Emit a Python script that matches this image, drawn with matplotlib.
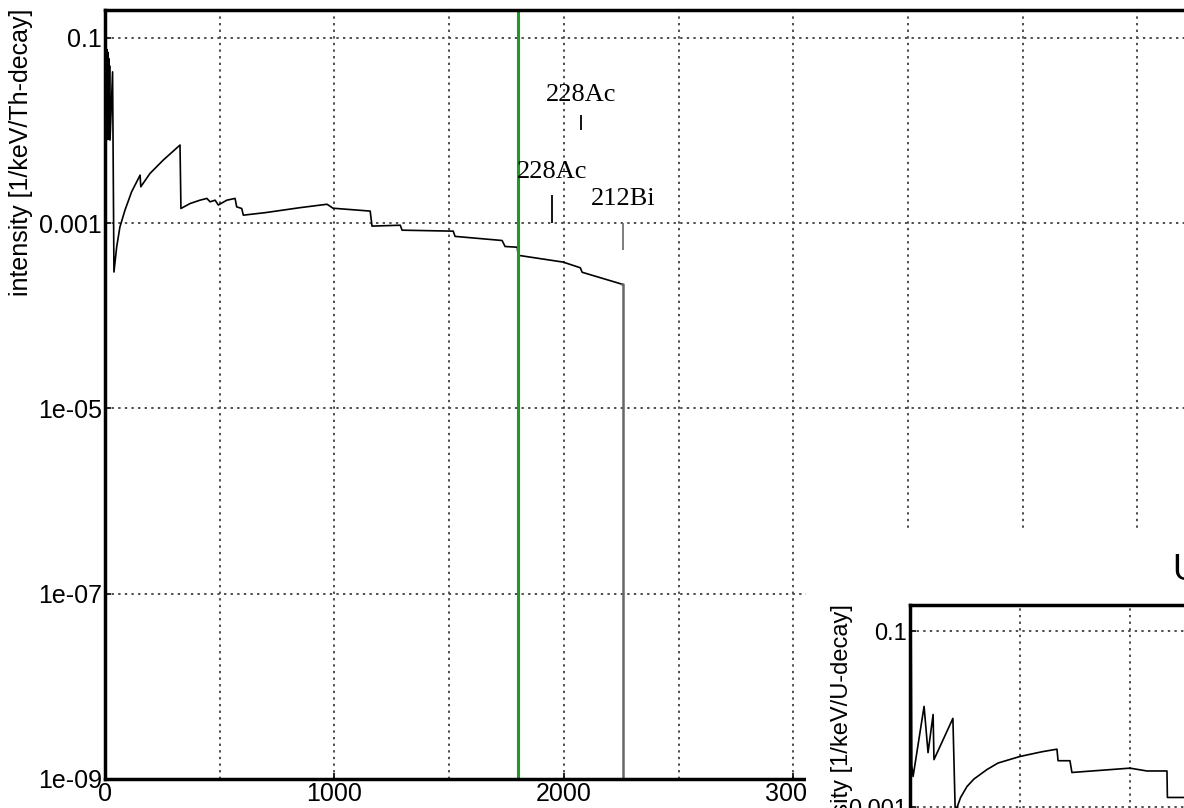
import matplotlib
matplotlib.use("Agg")
import matplotlib.pyplot as plt
from matplotlib.patches import Rectangle
from matplotlib.ticker import FixedLocator, MultipleLocator, NullFormatter

plt.rcParams['font.family'] = ['Liberation Sans', 'DejaVu Sans']

# Th chain spectrum (keV, 1/keV/Th-decay)
th_energy = [0.5, 2, 4, 6, 8, 10, 12, 14, 16, 18, 20, 22, 33, 39, 51, 65, 87, 116,
             153, 156, 196, 254, 327, 331, 371, 414, 444, 458, 480, 494, 531,
             567, 574, 596, 603, 700, 850, 968, 994,
             1156, 1164, 1287, 1295, 1518, 1526, 1731, 1744, 1797, 1801, 1997,
             2072, 2080, 2255]
th_intensity = [0.08, 0.008, 0.085, 0.01, 0.075, 0.008, 0.07, 0.009, 0.06, 0.008,
                0.05, 0.0079, 0.043, 2.97e-4, 5.55e-4, 9.1e-4, 1.38e-3, 2.18e-3,
                3.3e-3, 2.47e-3, 3.44e-3, 4.8e-3, 6.97e-3, 1.44e-3, 1.63e-3,
                1.77e-3, 1.85e-3, 1.7e-3, 1.77e-3, 1.57e-3, 1.77e-3, 1.85e-3,
                1.5e-3, 1.44e-3, 1.22e-3, 1.3e-3, 1.47e-3, 1.6e-3, 1.45e-3,
                1.35e-3, 9.3e-4, 9.5e-4, 8.4e-4, 8.2e-4, 7.2e-4, 6.5e-4, 5.6e-4,
                5.5e-4, 4.5e-4, 3.8e-4, 3.3e-4, 2.95e-4, 2.19e-4]
th_endpoint = 2256

# U chain spectrum (inset)
u_energy = [0.5, 3, 5, 8, 14, 64, 82, 105, 109, 195, 205, 207, 230, 259, 290,
            350, 400, 500, 600, 668, 673, 727, 736, 1000, 1077, 1168, 1170, 1245]
u_intensity = [0.14, 0.002, 0.12, 0.003, 0.00225, 0.0141, 0.0042, 0.0114, 0.0035,
               0.0103, 0.00102, 9e-4, 0.0013, 0.00173, 0.0021, 0.0027, 0.0032,
               0.0038, 0.0043, 0.0046, 0.0034, 0.0034, 0.0025, 0.0028, 0.0026,
               0.0026, 0.0013, 0.0013]

# line markers: label, energy, text height, marker from/to
line_labels = ['228Ac', '228Ac', '212Bi']
line_energy = [2076, 1949, 2259]
label_height = [0.0242, 0.00356, 0.00182]
mark_low = [0.0101, 0.001, 0.00051]
mark_high = [0.0147, 0.00201, 0.001]
mark_colors = ['black', 'black', '0.45']

cut_energy = 1800

y_ticks = [0.1, 0.001, 1e-05, 1e-07, 1e-09]
y_ticklabels = ['0.1', '0.001', '1e-05', '1e-07', '1e-09']
x_ticks = [0, 1000, 2000, 3000, 4000]
x_ticklabels = ['0', '1000', '2000', '3000', '4000']

W, H = 1184, 808


def style(ax, fs):
    ax.set_yscale('log')
    ax.set_xlim(0, 5000)
    ax.set_ylim(1e-9, 0.2)
    ax.yaxis.set_major_locator(FixedLocator(y_ticks))
    ax.yaxis.set_minor_locator(FixedLocator([]))
    ax.set_yticklabels(y_ticklabels)
    ax.xaxis.set_major_locator(FixedLocator(x_ticks))
    ax.set_xticklabels(x_ticklabels)
    ax.xaxis.set_minor_locator(MultipleLocator(500))
    ax.xaxis.set_minor_formatter(NullFormatter())
    ax.tick_params(which='major', direction='in', length=4, width=1.2,
                   labelsize=fs, pad=2)
    ax.tick_params(which='minor', length=0)
    ax.grid(True, which='major', axis='y', color='0.3', linestyle=(0, (1.2, 2.2)), lw=1.4)
    ax.grid(True, which='both', axis='x', color='0.3', linestyle=(0, (1.2, 2.2)), lw=1.4)
    for s in ax.spines.values():
        s.set_linewidth(2.5)
    ax.set_axisbelow(True)


fig = plt.figure(figsize=(W / 100, H / 100), dpi=100)

# main Th panel
ax = fig.add_axes([105 / W, (H - 779) / H, 1147 / W, 769 / H])
style(ax, 18)
ax.plot(th_energy, th_intensity, color='black', lw=1.2)
ax.plot([th_energy[-1], th_endpoint, th_endpoint],
        [th_intensity[-1], th_intensity[-1], 1e-10], color='0.4', lw=1.8)
ax.axvline(cut_energy, color='#1f9a1f', lw=2.2)
for lab, e, h, lo, hi, c in zip(line_labels, line_energy, label_height,
                                mark_low, mark_high, mark_colors):
    ax.text(e, h, lab, ha='center', va='center', fontsize=19,
            family=['Liberation Serif', 'DejaVu Serif'])
    ax.vlines(e, lo, hi, color=c, lw=1.3)
fig.text(21 / W, 1 - 152 / H, 'intensity [1/keV/Th-decay]', rotation=90,
         ha='center', va='center', fontsize=18)

# overlapping U figure
fig.patches.append(Rectangle((806 / W, 0), (W - 806) / W, (H - 531) / H,
                             transform=fig.transFigure, facecolor='white',
                             edgecolor='none', zorder=1))
ax2 = fig.add_axes([910 / W, (H - 605 - 730.5) / H, 1100 / W, 730.5 / H])
ax2.set_zorder(2)
style(ax2, 17)
ax2.plot(u_energy, u_intensity, color='black', lw=1.2)
fig.text(842 / W, 1 - 735 / H, 'intensity [1/keV/U-decay]', rotation=90,
         ha='center', va='center', fontsize=17, zorder=3)
fig.text(1172 / W, 1 - 570 / H, 'U', ha='left', va='center', fontsize=26, zorder=3)

fig.savefig('out.png', dpi=100)
